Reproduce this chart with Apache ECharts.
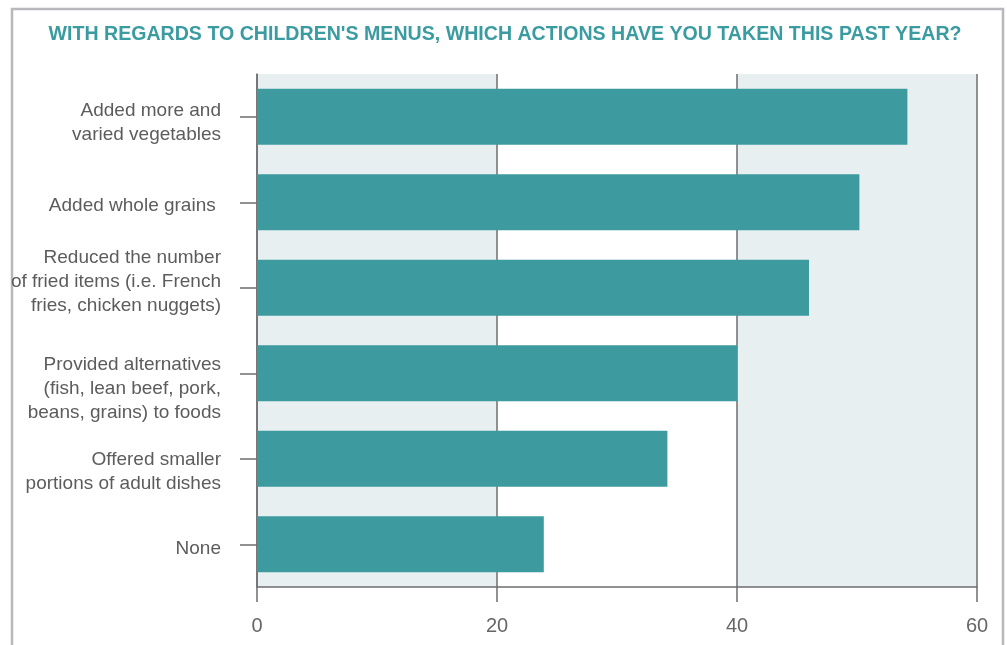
<!DOCTYPE html>
<html>
<head>
<meta charset="utf-8">
<script src="https://cdn.jsdelivr.net/npm/echarts@6/dist/echarts.min.js"></script>
<style>
  html, body { margin: 0; padding: 0; background: #fff; }
  #chart { width: 1007px; height: 645px; }
</style>
</head>
<body>
<div id="chart"></div>
<script>
const titleText = "WITH REGARDS TO CHILDREN'S MENUS, WHICH ACTIONS HAVE YOU TAKEN THIS PAST YEAR?";
const categories = [
  'Added more and\nvaried vegetables',
  'Added whole grains ',
  'Reduced the number\nof fried items (i.e. French\nfries, chicken nuggets)',
  'Provided alternatives\n(fish, lean beef, pork,\nbeans, grains) to foods',
  'Offered smaller\nportions of adult dishes',
  'None'
];
const values = [54.2, 50.2, 46, 40, 34.2, 23.9];
const xTicks = [0, 20, 40, 60];

// small vertical nudges of the category labels (px, + = down)
const labelShift = [6, 4, -5.5, 15.5, 13, 4.5];

const teal = '#3d9ba0';
const labelFont = "'Liberation Sans', Arial, sans-serif";

// squeeze the bold title to the condensed width of the original
const titleFont = "bold 21px 'Liberation Sans', Arial, sans-serif";
const ctx = document.createElement('canvas').getContext('2d');
ctx.font = titleFont;
const titleScale = 913 / ctx.measureText(titleText).width;

// spacer lines used to nudge labels up or down
const rich = {};
labelShift.forEach((s, i) => {
  rich['g' + i] = { fontSize: 1, lineHeight: Math.max(1, 2 * Math.abs(s)) };
});

const chart = echarts.init(document.getElementById('chart'));

const option = {
  backgroundColor: '#fff',
  animation: false,
  graphic: [
    {
      type: 'rect',
      silent: true,
      shape: { x: 12, y: 9, width: 991, height: 700 },
      style: { fill: 'none', stroke: '#b8b8bc', lineWidth: 2.5 }
    },
    {
      type: 'text',
      silent: true,
      x: 505,
      y: 34.5,
      scaleX: titleScale,
      style: {
        text: titleText,
        font: titleFont,
        fill: '#3a9ba0',
        textAlign: 'center',
        textVerticalAlign: 'middle'
      }
    }
  ],
  grid: {
    left: 257,
    right: 30,
    top: 74,
    bottom: 58
  },
  xAxis: {
    type: 'value',
    min: xTicks[0],
    max: xTicks[xTicks.length - 1],
    interval: 20,
    axisLine: { show: true, lineStyle: { color: '#6e6e6e', width: 1.5 } },
    axisTick: { show: true, length: 15, lineStyle: { color: '#6e6e6e', width: 1.5 } },
    axisLabel: {
      margin: 29,
      color: '#666',
      fontSize: 20,
      fontFamily: labelFont
    },
    splitLine: { show: true, lineStyle: { color: '#6e6e6e', width: 1.5 } },
    splitArea: { show: true, areaStyle: { color: ['#e8eff1', '#ffffff'] } }
  },
  yAxis: {
    type: 'category',
    inverse: true,
    data: categories,
    axisLine: { show: true, lineStyle: { color: '#6e6e6e', width: 1.5 } },
    axisTick: { show: true, alignWithLabel: true, length: 17, lineStyle: { color: '#6e6e6e', width: 1.5 } },
    axisLabel: {
      margin: 36,
      color: '#5c5c5c',
      fontSize: 19,
      lineHeight: 24,
      align: 'right',
      fontFamily: labelFont,
      rich: rich,
      formatter: (value, index) => {
        const s = labelShift[index];
        if (!s) return value;
        const spacer = '{g' + index + '| }';
        return s > 0 ? spacer + '\n' + value : value + '\n' + spacer;
      }
    }
  },
  series: [
    {
      type: 'bar',
      data: values,
      barWidth: 56,
      itemStyle: { color: teal }
    }
  ]
};

chart.setOption(option);
</script>
</body>
</html>
